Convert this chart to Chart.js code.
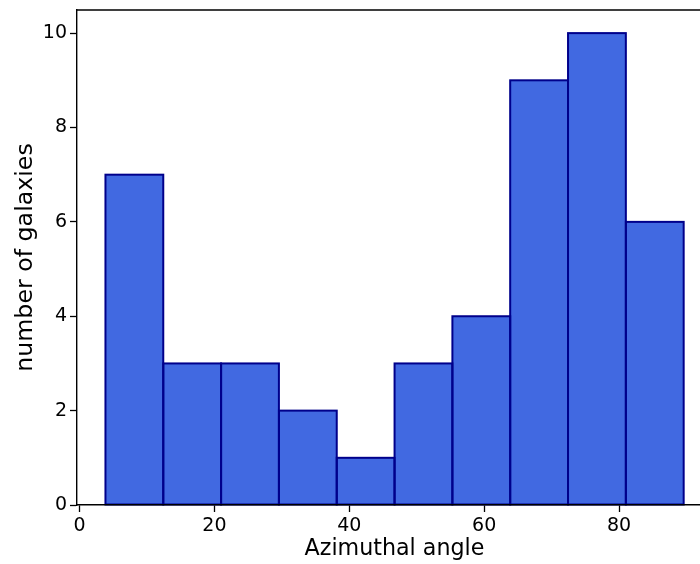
<!DOCTYPE html>
<html>
<head>
<meta charset="utf-8">
<script src="https://cdn.jsdelivr.net/npm/chart.js@4/dist/chart.umd.min.js"></script>
<style>
  html, body { margin: 0; padding: 0; background: #fff; overflow: hidden; }
  #wrap { width: 700px; height: 564px; overflow: hidden; }
</style>
</head>
<body>
<div id="wrap"><canvas id="myChart" width="712" height="564"></canvas></div>
<script>
// bordes de los bins (angulo azimutal) y cuentas por bin
const binEdges = [3.85, 12.42, 20.99, 29.57, 38.14, 46.71, 55.29, 63.86, 72.43, 81.01, 89.58];
const counts = [7, 3, 3, 2, 1, 3, 4, 9, 10, 6];
const xTicks = [0, 20, 40, 60, 80];
const yTicks = [0, 2, 4, 6, 8, 10];

const puntos = counts.map((c, i) => ({ x: (binEdges[i] + binEdges[i + 1]) / 2, y: c }));

// contorno de cada barra centrado en su borde (como matplotlib), y marco superior
const contornos = {
    id: 'contornos',
    afterDatasetsDraw(chart) {
        const ctx = chart.ctx;
        ctx.save();
        ctx.strokeStyle = '#00008b';
        ctx.lineWidth = 2;
        chart.getDatasetMeta(0).data.forEach(b => {
            const p = b.getProps(['x', 'y', 'base', 'width'], true);
            ctx.strokeRect(p.x - p.width / 2, p.y, p.width, p.base - p.y);
        });
        ctx.restore();
    },
    afterDraw(chart) {
        const { ctx, chartArea } = chart;
        ctx.save();
        ctx.strokeStyle = '#000';
        ctx.lineWidth = 1.4;
        ctx.beginPath();
        ctx.moveTo(chartArea.left, chartArea.top);
        ctx.lineTo(chartArea.right, chartArea.top);
        ctx.lineTo(chartArea.right, chartArea.bottom);
        ctx.stroke();
        ctx.restore();
    }
};

Chart.defaults.font.family = '"DejaVu Sans", sans-serif';
Chart.defaults.color = '#000';

new Chart(document.getElementById('myChart').getContext('2d'), {
    type: 'bar',
    data: {
        datasets: [{
            data: puntos,
            backgroundColor: '#4169e1',
            borderWidth: 0,
            barPercentage: 1,
            categoryPercentage: 1
        }]
    },
    options: {
        responsive: false,
        animation: false,
        layout: { padding: { top: 10, right: 0, left: 0, bottom: 0 } },
        plugins: {
            legend: { display: false },
            tooltip: { enabled: false }
        },
        scales: {
            x: {
                type: 'linear',
                min: -0.37,
                max: 93.78,
                offset: false,
                afterFit: (s) => { s.height = 59; s.paddingLeft = 0; s.paddingRight = 0; },
                afterBuildTicks: (s) => { s.ticks = xTicks.map(v => ({ value: v })); },
                ticks: { font: { size: 19 }, padding: 3, maxRotation: 0 },
                grid: { offset: false, drawOnChartArea: false, tickLength: 7, tickColor: '#000', tickWidth: 1.3 },
                border: { display: true, color: '#000', width: 1.4, z: 1 },
                title: { display: true, text: 'Azimuthal angle', font: { size: 22.2 }, padding: { top: 0, bottom: 1 } }
            },
            y: {
                min: 0,
                max: 10.49,
                afterFit: (s) => { s.width = 77; s.paddingTop = 0; s.paddingBottom = 0; },
                afterBuildTicks: (s) => { s.ticks = yTicks.map(v => ({ value: v })); },
                ticks: { font: { size: 19 }, padding: 3 },
                grid: { drawOnChartArea: false, tickLength: 7, tickColor: '#000', tickWidth: 1.3 },
                border: { display: true, color: '#000', width: 1.4 },
                title: { display: true, text: 'number of galaxies', font: { size: 23.7 }, padding: { top: 12, bottom: 0 } }
            }
        }
    },
    plugins: [contornos]
});
</script>
</body>
</html>
